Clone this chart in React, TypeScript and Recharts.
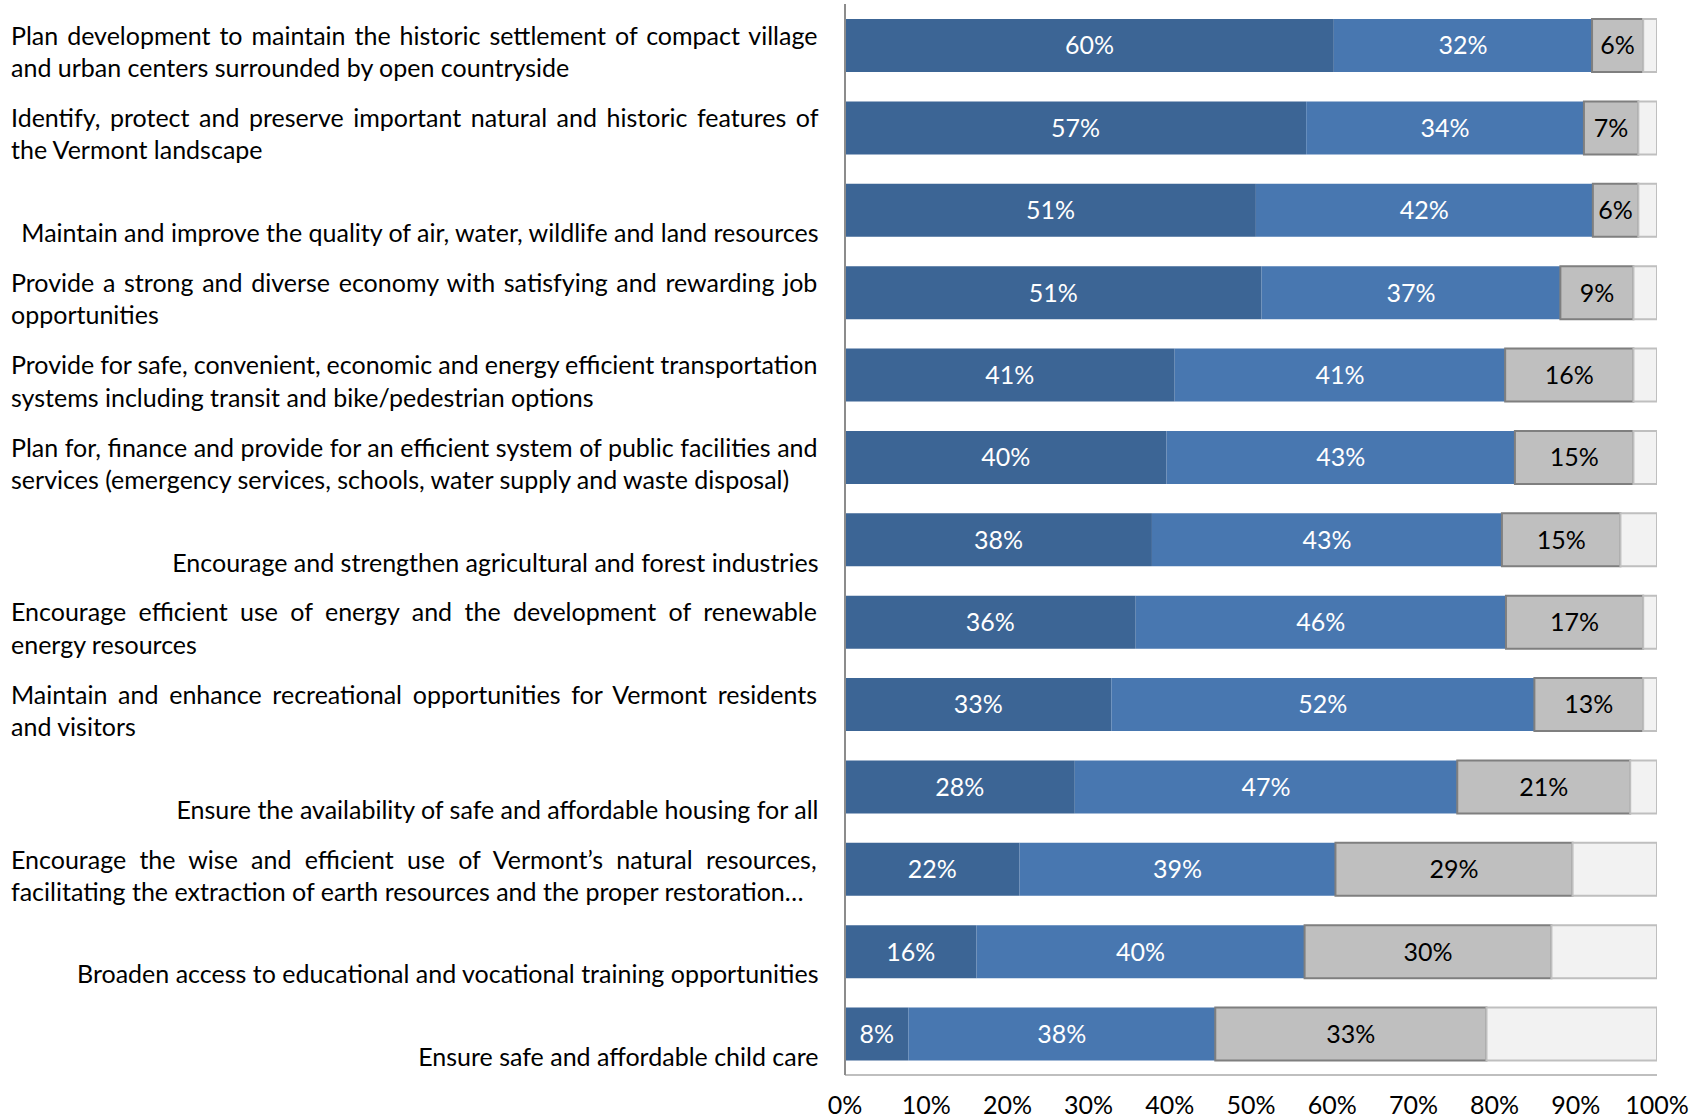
import { BarChart, Bar, XAxis, YAxis, LabelList } from 'recharts'

// Goals, top to bottom. "\n" marks where the original label wraps.
const goals = [
  'Plan development to maintain the historic settlement of compact village\nand urban centers surrounded by open countryside',
  'Identify, protect and preserve important natural and historic features of\nthe Vermont landscape',
  'Maintain and improve the quality of air, water, wildlife and land resources',
  'Provide a strong and diverse economy with satisfying and rewarding job\nopportunities',
  'Provide for safe, convenient, economic and energy efficient transportation\nsystems including transit and bike/pedestrian options',
  'Plan for, finance and provide for an efficient system of public facilities and\nservices (emergency services, schools, water supply and waste disposal)',
  'Encourage and strengthen agricultural and forest industries',
  'Encourage efficient use of energy and the development of renewable\nenergy resources',
  'Maintain and enhance recreational opportunities for Vermont residents\nand visitors',
  'Ensure the availability of safe and affordable housing for all',
  'Encourage the wise and efficient use of Vermont\u2019s natural resources,\nfacilitating the extraction of earth resources and the proper restoration\u2026',
  'Broaden access to educational and vocational training opportunities',
  'Ensure safe and affordable child care',
]

const veryImportant = [60.2, 56.8, 50.6, 51.3, 40.6, 39.6, 37.8, 35.8, 32.8, 28.3, 21.5, 16.2, 7.8]
const important = [31.8, 34.2, 41.5, 36.8, 40.7, 42.9, 43.1, 45.6, 52.1, 47.1, 38.9, 40.4, 37.8]
const somewhatImportant = [6.3, 6.7, 5.6, 9.0, 15.8, 14.6, 14.6, 16.9, 13.4, 21.3, 29.2, 30.4, 33.4]
const notImportant = [1.7, 2.3, 2.3, 2.9, 2.9, 2.9, 4.5, 1.7, 1.7, 3.3, 10.4, 13.0, 21.0]

const xTicks = [0, 10, 20, 30, 40, 50, 60, 70, 80, 90, 100]

const data = goals.map((name, i) => ({
  name,
  very: veryImportant[i],
  important: important[i],
  somewhat: somewhatImportant[i],
  not: notImportant[i],
}))

const FONT = 'Lato, sans-serif'
const FS = 25
const TEXT_LEFT = 11
const TEXT_RIGHT = 818.5
const LINE_H = 32.4

let ctx: CanvasRenderingContext2D | null = null
function textWidth(s: string) {
  if (!ctx) ctx = document.createElement('canvas').getContext('2d')
  ctx!.font = `${FS}px Lato`
  return ctx!.measureText(s).width
}

// category labels: one-liners sit right-aligned on the lower line,
// wrapped labels are justified with the last line left-aligned
function GoalTick({ y, payload }: any) {
  const lines = String(payload.value).split('\n')
  const common = { fontFamily: FONT, fontSize: FS, fill: '#000' }
  if (lines.length === 1) {
    return (
      <text x={TEXT_RIGHT} y={y + 32} textAnchor="end" {...common}>
        {lines[0]}
      </text>
    )
  }
  return (
    <g>
      {lines.map((ln, i) => {
        const last = i === lines.length - 1
        const gaps = ln.split(' ').length - 1
        const ws = last || gaps === 0 ? 0 : (TEXT_RIGHT - TEXT_LEFT - textWidth(ln)) / gaps
        return (
          <text key={i} x={TEXT_LEFT} y={y - 0.5 + i * LINE_H} style={{ wordSpacing: ws }} {...common}>
            {ln}
          </text>
        )
      })}
    </g>
  )
}

const pct = (v: any) => `${Math.round(Number(v))}%`

export default function App() {
  return (
    <div style={{ position: 'absolute', left: 0, top: 0, background: '#fff' }}>
      <BarChart
        width={1702}
        height={1120}
        data={data}
        layout="vertical"
        margin={{ top: 4, right: 45, bottom: 0, left: 0 }}
      >
        <XAxis
          type="number"
          domain={[0, 100]}
          allowDataOverflow
          ticks={xTicks}
          tickFormatter={(v: number) => `${v}%`}
          axisLine={{ stroke: '#BFBFBF', strokeWidth: 2 }}
          tickLine={false}
          tickSize={0}
          tickMargin={21}
          height={45}
          tick={{ fill: '#000', fontSize: FS, fontFamily: FONT }}
        />
        <YAxis
          type="category"
          dataKey="name"
          width={845}
          interval={0}
          tickLine={false}
          axisLine={{ stroke: '#8C8C8C', strokeWidth: 2 }}
          tick={<GoalTick />}
        />
        <Bar dataKey="very" stackId="a" fill="#3C6595" barSize={53} isAnimationActive={false}>
          <LabelList dataKey="very" position="center" formatter={pct} fill="#fff" fontSize={FS} fontFamily={FONT} />
        </Bar>
        <Bar dataKey="important" stackId="a" fill="#4877B0" barSize={53} isAnimationActive={false}>
          <LabelList dataKey="important" position="center" formatter={pct} fill="#fff" fontSize={FS} fontFamily={FONT} />
        </Bar>
        <Bar dataKey="somewhat" stackId="a" fill="#BFBFBF" stroke="#7F7F7F" strokeWidth={2} barSize={53} isAnimationActive={false}>
          <LabelList dataKey="somewhat" position="center" formatter={pct} fill="#000" fontSize={FS} fontFamily={FONT} />
        </Bar>
        <Bar dataKey="not" stackId="a" fill="#F2F2F2" stroke="#BFBFBF" strokeWidth={2} barSize={53} isAnimationActive={false} />
      </BarChart>
    </div>
  )
}
